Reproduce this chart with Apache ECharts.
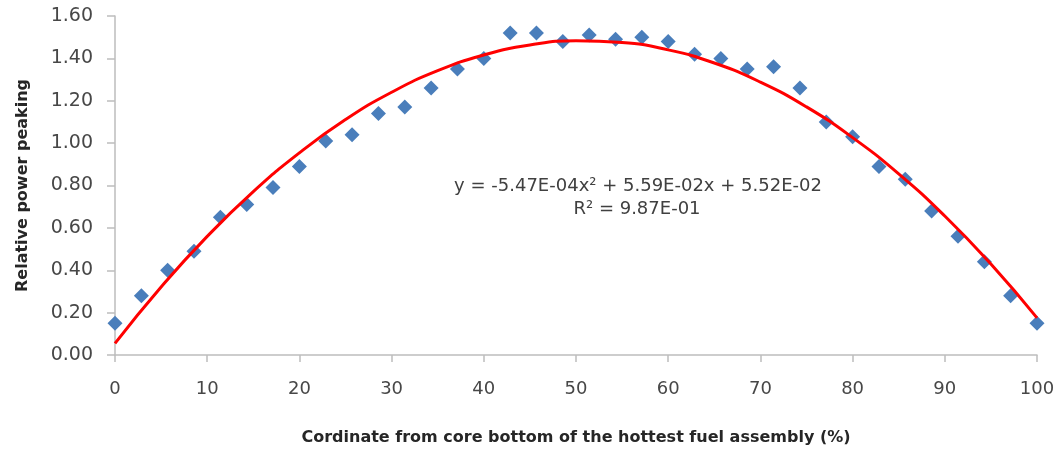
<!DOCTYPE html>
<html>
<head>
<meta charset="utf-8">
<script src="https://cdn.jsdelivr.net/npm/echarts@6/dist/echarts.min.js"></script>
<style>
html,body{margin:0;padding:0;background:#fff;}
#c{width:1063px;height:453px;}
</style>
</head>
<body>
<div id="c"></div>
<script>
// Measured data: position (% of core height) and relative power peaking
const positions = [0, 2.86, 5.71, 8.57, 11.43, 14.29, 17.14, 20, 22.86, 25.71, 28.57, 31.43,
  34.29, 37.14, 40, 42.86, 45.71, 48.57, 51.43, 54.29, 57.14, 60, 62.86, 65.71, 68.57,
  71.43, 74.29, 77.14, 80, 82.86, 85.71, 88.57, 91.43, 94.29, 97.14, 100];
const peaking = [0.15, 0.28, 0.40, 0.49, 0.65, 0.71, 0.79, 0.89, 1.01, 1.04, 1.14, 1.17,
  1.26, 1.35, 1.40, 1.52, 1.52, 1.48, 1.51, 1.49, 1.50, 1.48, 1.42, 1.40, 1.35,
  1.36, 1.26, 1.10, 1.03, 0.89, 0.83, 0.68, 0.56, 0.44, 0.28, 0.15];

// Trendline
const trendX = [0, 5, 10, 15, 20, 25, 30, 35, 40, 45, 50, 55, 60, 65, 70, 75, 80, 85, 90, 95, 100];
const trendY = [0.055, 0.321, 0.560, 0.771, 0.954, 1.111, 1.240, 1.342, 1.416, 1.463, 1.483,
  1.475, 1.440, 1.378, 1.288, 1.171, 1.026, 0.855, 0.656, 0.429, 0.175];

const equationLines = ['y = -5.47E-04x\u00B2 + 5.59E-02x + 5.52E-02', 'R\u00B2 = 9.87E-01'];
const xTitle = 'Cordinate from core bottom of the hottest fuel assembly (%)';
const yTitle = 'Relative power peaking';

const chart = echarts.init(document.getElementById('c'), null, {renderer: 'canvas'});
const font = 'DejaVu Sans';
const axisLineStyle = {color: '#bdbdbd', width: 1.5};

chart.setOption({
  animation: false,
  backgroundColor: '#ffffff',
  grid: {left: 115, right: 26, top: 16, bottom: 98, containLabel: false},
  xAxis: {
    type: 'value', min: 0, max: 100, interval: 10,
    name: xTitle, nameLocation: 'middle', nameGap: 75,
    nameTextStyle: {fontFamily: font, fontWeight: 'bold', fontSize: 16, color: '#262626'},
    axisLine: {show: true, lineStyle: axisLineStyle},
    axisTick: {show: true, length: 7, lineStyle: axisLineStyle},
    splitLine: {show: false},
    axisLabel: {fontFamily: font, fontSize: 18, color: '#474747', margin: 25}
  },
  yAxis: {
    type: 'value', min: 0, max: 1.6, interval: 0.2,
    name: yTitle, nameLocation: 'middle', nameGap: 84, nameRotate: 90,
    nameTextStyle: {fontFamily: font, fontWeight: 'bold', fontSize: 16, color: '#262626'},
    axisLine: {show: true, lineStyle: axisLineStyle},
    axisTick: {show: true, length: 8, lineStyle: axisLineStyle},
    splitLine: {show: false},
    axisLabel: {fontFamily: font, fontSize: 19, color: '#474747', margin: 22,
      formatter: v => v.toFixed(2)}
  },
  graphic: [{
    type: 'text', x: 638, y: 186, z: 10,
    style: {text: equationLines[0], fontFamily: font, fontSize: 18, fill: '#404040',
      textAlign: 'center', textVerticalAlign: 'middle'}
  }, {
    type: 'text', x: 637, y: 209, z: 10,
    style: {text: equationLines[1], fontFamily: font, fontSize: 18, fill: '#404040',
      textAlign: 'center', textVerticalAlign: 'middle'}
  }],
  series: [{
    type: 'scatter',
    data: positions.map((x, i) => [x, peaking[i]]),
    symbol: 'diamond', symbolSize: 15,
    itemStyle: {color: '#4a7ebb', opacity: 1},
    z: 2
  }, {
    type: 'line',
    data: trendX.map((x, i) => [x, trendY[i]]),
    smooth: true, showSymbol: false,
    lineStyle: {color: '#ff0000', width: 3},
    z: 3
  }]
});
</script>
</body>
</html>
